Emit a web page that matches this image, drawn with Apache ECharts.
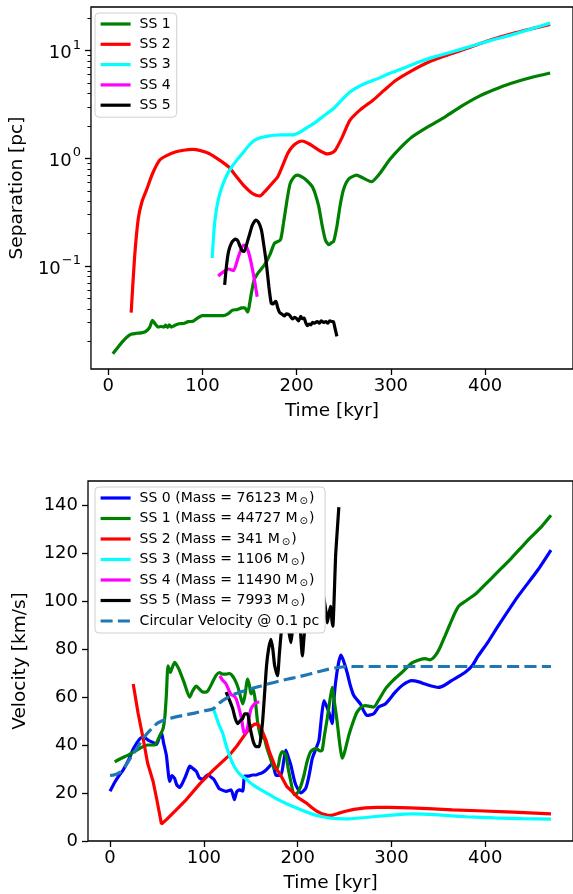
<!DOCTYPE html>
<html>
<head>
<meta charset="utf-8">
<script src="https://cdn.jsdelivr.net/npm/echarts@6/dist/echarts.min.js"></script>
<style>
  html, body { margin: 0; padding: 0; background: #fff; }
  #chart { width: 573px; height: 894px; }
</style>
</head>
<body>
<div id="chart"></div>
<script>
// ---- Separation between sub-structures [pc] vs time [kyr] ----
const sepSS1 = [[5,0.0154],[10,0.0175],[15,0.0198],[20,0.022],[25,0.0234],[30,0.0238],[35,0.024],[40,0.0248],[44,0.027],[47,0.0313],[50,0.029],[53,0.0272],[56,0.0275],[59,0.0272],[61,0.0283],[63,0.027],[65,0.0285],[67,0.0272],[70,0.028],[75,0.0292],[80,0.0293],[85,0.0305],[90,0.0308],[95,0.033],[100,0.0347],[110,0.0347],[122,0.0347],[127,0.036],[132,0.039],[137,0.0395],[141.7,0.0409],[145,0.041],[148,0.0375],[152,0.0563],[155,0.075],[159,0.086],[166,0.103],[172,0.13],[176.5,0.163],[182.8,0.175],[186,0.25],[189.8,0.41],[193,0.58],[197.4,0.675],[201,0.70],[206,0.67],[211,0.62],[216.6,0.546],[220,0.46],[223.5,0.356],[227,0.24],[230.5,0.175],[234,0.158],[237,0.165],[239.2,0.169],[242.7,0.233],[246,0.36],[249.6,0.509],[255,0.64],[263.6,0.70],[270,0.66],[279.3,0.607],[288,0.72],[298.4,0.964],[310,1.25],[322.7,1.585],[340,1.98],[357.6,2.43],[375,3.05],[392.4,3.72],[410,4.35],[427,4.95],[448,5.6],[469,6.2]];
const sepSS2 = [[24.4,0.037],[28,0.12],[32,0.278],[36,0.40],[40.7,0.51],[47,0.72],[54.7,0.964],[62,1.06],[72,1.15],[80,1.19],[89.5,1.21],[98,1.18],[107,1.11],[117,0.98],[127.8,0.836],[136,0.68],[145,0.546],[152,0.48],[157,0.455],[160.9,0.448],[165,0.48],[169.6,0.53],[175,0.60],[180,0.676],[185,0.85],[190.5,1.11],[196,1.30],[202.6,1.43],[206,1.45],[212,1.38],[218.3,1.28],[225,1.17],[232.3,1.10],[237,1.12],[241,1.19],[248,1.55],[256.6,2.26],[268,2.85],[281,3.47],[293,4.3],[305.4,5.31],[322,6.5],[340.2,7.84],[357,8.9],[375,10.06],[392,11.4],[409.8,12.9],[430,14.5],[450,16.0],[469,17.5]];
const sepSS3 = [[110.4,0.119],[112,0.20],[113.8,0.288],[117,0.42],[120.8,0.546],[126,0.70],[131.3,0.836],[138,1.0],[145.2,1.19],[150,1.34],[155.6,1.476],[162,1.56],[169.6,1.61],[176,1.64],[183.5,1.65],[190,1.65],[197.4,1.66],[204,1.76],[211,1.93],[218.3,2.11],[228,2.45],[239.2,2.90],[248,3.5],[256.6,4.14],[265,4.6],[274,5.0],[286,5.5],[298.4,6.12],[314,6.9],[329.8,7.84],[347,8.8],[364.5,9.7],[385,11.0],[406.3,12.45],[428,14.0],[450,16.0],[469,18.0]];
const sepSS4 = [[116.7,0.081],[122,0.088],[127.8,0.094],[133,0.091],[138.3,0.123],[143.5,0.157],[146,0.155],[148.7,0.137],[151,0.115],[153.9,0.086],[156,0.068],[158.1,0.052]];
const sepSS5 = [[123.6,0.067],[125.5,0.10],[127.8,0.137],[131,0.165],[134.8,0.178],[137.5,0.172],[140,0.152],[142,0.14],[144.5,0.137],[147,0.16],[150.4,0.202],[153,0.24],[156.7,0.268],[159.5,0.255],[162.6,0.217],[165,0.16],[167.8,0.107],[170.5,0.065],[173,0.0454],[175,0.0445],[176.5,0.046],[178,0.047],[180,0.0408],[182,0.037],[185.2,0.0354],[187,0.0345],[189,0.036],[192,0.0354],[194,0.0335],[195.6,0.0323],[198,0.0335],[200,0.0325],[202,0.031],[204.4,0.0341],[206,0.0325],[208,0.033],[209.5,0.030],[211.4,0.028],[213,0.029],[215,0.0285],[217,0.030],[219,0.0295],[221.8,0.0306],[224,0.0295],[226,0.031],[228.7,0.030],[231,0.0305],[233,0.0295],[235,0.031],[237.5,0.0306],[239,0.0305],[240.5,0.027],[242.7,0.0223]];

// ---- Velocity of each sub-structure [km/s] vs time [kyr] ----
const velSS0 = [[0,20.7],[5,24.5],[10,27.5],[14,29.6],[20,34],[25,38.5],[32,42.7],[36,43.3],[40.6,42],[45,41.2],[49.5,40.2],[52,42.5],[54.8,45.2],[57,41],[60,35.8],[63.6,24.8],[66,27.2],[68.9,26],[71,23.5],[74.2,22.3],[77,24],[80,26.5],[82.5,29],[85,31.2],[88,30.3],[92,29],[95.4,26.2],[99,25.8],[104,27.6],[108,26.5],[111,25.5],[116,22],[119,21.3],[123.7,20.7],[129,21.3],[132.6,17.2],[135,20.5],[138,21.3],[141.4,20.8],[143.5,27],[148,27],[152,27.5],[155.6,27.5],[159,28],[162.6,28.5],[166,29.5],[169.7,31],[173,32.4],[176.8,27.5],[182,27.3],[185,33],[187.4,37.9],[190,35],[192.7,31.7],[196,26],[198,23.4],[203.3,20],[208.6,22],[212,27],[215.6,34.4],[219,38],[222.7,42],[225.5,52],[228,58.5],[231,56],[233.3,53.7],[236.8,48.9],[238.5,58],[240.4,66],[243.5,74],[246,77.5],[248.5,75.5],[252.7,70.2],[256,65],[259.8,60.6],[266.9,57.1],[270,54.5],[273.9,52.3],[281,53],[286.3,55.8],[293.4,57.1],[304,62],[312,65],[321.6,66.8],[330,66.2],[335.8,65.4],[350,64],[357,65],[364,66.8],[378.3,70.2],[386,73],[392.4,77.1],[403,83],[413.6,89.5],[434.8,101.9],[456,112.9],[470,121.2]];
const velSS1 = [[5,33],[12,34.5],[19.4,35.8],[27,37.5],[35,39.3],[40,40],[47.7,40],[52,43],[56.5,46.8],[58.5,52],[60.1,61.3],[61.8,73],[64.3,70.2],[66.5,72.5],[68.9,74.4],[71.5,73],[74.2,70.9],[79,66],[84.8,59.9],[88,62.5],[91.9,64.5],[96,63],[99,62],[102.5,62],[105,63],[109,66],[113,69],[116.6,70.2],[120,69.5],[124,69.5],[127.3,69.8],[130,69],[132.6,67.5],[135.5,65],[137.9,62],[141.4,57.1],[143.5,60],[146.7,67.5],[148.5,65],[150.3,61.3],[152.7,63.3],[155,58],[157.3,49.6],[160.8,43.4],[164.4,42.7],[167,39],[169.7,35.8],[173,32],[175,30.3],[178.5,30.3],[181,35],[183.8,37.2],[187.4,35.8],[190,30],[192.7,24.8],[196.2,19.3],[199.7,20],[203,22.5],[206.8,27.5],[210,33],[213.9,37.2],[219.2,38.6],[224,37.5],[226.2,37.9],[228.5,44],[231.5,51],[234.5,59],[236.8,64],[239.5,57],[242.1,49.6],[245,40],[247.4,34.5],[250,37],[254.5,44],[259,49.5],[263.3,53.7],[268,55.8],[272.2,56.4],[281,55.8],[286,58.5],[293.4,63.3],[302,67],[311,70.2],[321.6,74.1],[330,75.5],[335.8,76],[341.1,75.5],[346.4,77.1],[351,80],[357,85.4],[362,90],[367.6,95],[372,98],[378.3,99.8],[390,103],[399.5,106.7],[413,112],[427.7,117.8],[440,123],[448.9,126.7],[460,131],[470,135.7]];
const velSS2 = [[24.7,65.4],[30,53],[35.3,42.7],[40,32.5],[45.9,24.8],[50,17],[54.8,7.1],[60.1,8.9],[70,12.8],[80,16.7],[95.4,23.7],[110,29.5],[127.3,35.8],[135,39.5],[143.2,44],[148,46.5],[151.5,48],[153.8,48.6],[156.5,48.8],[159.1,47.9],[162,46],[166.2,42],[170,37],[176.8,30.3],[181,28],[188.4,22.7],[194.4,20.5],[200,18.2],[208.6,16],[215,14],[220,12.5],[226.2,11.3],[232,10.7],[236.8,10.7],[243,11.5],[251,12.4],[260,13.2],[272.2,13.8],[285,14],[297,14],[320,13.8],[339.3,13.5],[365,13],[392.4,12.6],[430,12],[470,11.3]];
const velSS3 = [[110,55.1],[113,52],[116,48.5],[120,45],[124,39.5],[127,36],[130,33],[134,30],[138,28],[145,25.8],[152,23.5],[160,21.5],[170,19.3],[180.3,17],[190,15.2],[201.5,13.3],[215.6,11.2],[225,10.2],[235,9.5],[251,9.2],[272,9.8],[300,10.8],[322,11.3],[340,11.1],[357,10.7],[380,10.1],[410,9.6],[440,9.3],[470,9.1]];
const velSS4 = [[117,68.8],[120,67],[123.7,65.4],[127,62.5],[129,61],[132,60.5],[134.4,59.2],[137,56],[139.7,51.7],[143.2,44.8],[145,45.5],[146.7,47.5],[148.5,52],[150.3,55.1],[153.8,57.1],[156.5,57.8],[159.1,57.9]];
const velSS5 = [[123.7,62],[127,59],[130.8,55.1],[133.5,51],[136,48.9],[138.5,50],[141.3,51],[143.5,53],[146.6,53],[148.5,49],[150.2,45.5],[153,41],[155.6,39.3],[159,39.3],[161,44],[162.6,49.6],[164.5,60],[166.8,73],[169,80],[171.5,84],[173.5,80],[175.5,73],[178.5,68.9],[180.5,78],[182.1,85.4],[184,92],[186,97],[188,94],[190,89],[192.7,82.6],[194.5,88],[197,95],[200,97],[202,92],[203.3,85.4],[205,77.1],[207,86],[210,97],[214,108],[218,118],[221,128],[222.5,122],[224,113],[226,105],[228,101],[230,96],[231.5,90.9],[233,94],[235,97.8],[236.5,92],[237.5,89.5],[238.8,100],[240.4,118.4],[242.3,130],[243.9,139.1]];
const velCirc = [[0,27.3],[5,27.6],[10,28.5],[15,30.5],[20,33.5],[25,36.5],[30,39.5],[35,42.5],[40,45],[45,47],[50,49],[55,50],[60,50.7],[70,51.7],[80,52.5],[90,53.3],[100,54.2],[110,55.1],[115,57],[120,58.5],[130,60.8],[140,62.2],[150,63.4],[160,64.5],[170,65.6],[180,66.6],[190,67.5],[200,68.3],[210,69.3],[220,70.3],[230,71.3],[240,72.1],[250,72.6],[260,72.7],[300,72.7],[350,72.7],[400,72.7],[470,72.7]];

const subMasses = [76123, 44727, 341, 1106, 11490, 7993];

// ---- axis ticks ----
const timeTicks = [0, 100, 200, 300, 400];
const sepTicks = [0.1, 1, 10];
const sepMinorTicks = [0.02,0.03,0.04,0.05,0.06,0.07,0.08,0.09,0.2,0.3,0.4,0.5,0.6,0.7,0.8,0.9,2,3,4,5,6,7,8,9,20];
const velTicks = [0, 20, 40, 60, 80, 100, 120, 140];

const FONT = 'DejaVu Sans';
const LW = 3.2;
const sepMin = Math.pow(10, -1.955), sepMax = Math.pow(10, 1.405);

const colors = ['#0000ff', '#008000', '#ff0000', '#00ffff', '#ff00ff', '#000000'];
const velData = [velSS0, velSS1, velSS2, velSS3, velSS4, velSS5];
const sepData = [null, sepSS1, sepSS2, sepSS3, sepSS4, sepSS5];

const velNames = subMasses.map((m, i) => `SS ${i} (Mass = ${m} M⊙)`);
const circName = 'Circular Velocity @ 0.1 pc';

const series = [];
for (let i = 1; i <= 5; i++) {
  series.push({
    name: 'SS ' + i, type: 'line', xAxisIndex: 0, yAxisIndex: 0,
    data: sepData[i], symbol: 'none', smooth: 0.2,
    lineStyle: { color: colors[i], width: LW }, itemStyle: { color: colors[i] }
  });
}
for (let i = 0; i <= 5; i++) {
  series.push({
    name: velNames[i], type: 'line', xAxisIndex: 1, yAxisIndex: 2,
    data: velData[i], symbol: 'none', smooth: i === 2 ? false : 0.2,
    lineStyle: { color: colors[i], width: LW }, itemStyle: { color: colors[i] }
  });
}
series.push({
  name: circName, type: 'line', xAxisIndex: 1, yAxisIndex: 2,
  data: velCirc, symbol: 'none', smooth: 0.3,
  lineStyle: { color: '#1f77b4', width: LW, type: [12, 5.3] }, itemStyle: { color: '#1f77b4' }
});

const tickLine = { color: '#000', width: 1.3 };
const labelStyle = { fontFamily: FONT, fontSize: 18, color: '#000' };
const nameStyle = { fontFamily: FONT, fontSize: 18.5, color: '#000' };

function timeAxis(grid, min, max) {
  return {
    type: 'value', gridIndex: grid, min: min, max: max,
    name: 'Time [kyr]', nameLocation: 'middle', nameGap: 33, nameTextStyle: nameStyle,
    axisLine: { show: false, onZero: false }, splitLine: { show: false },
    axisTick: { show: true, length: 6, lineStyle: tickLine, customValues: timeTicks },
    axisLabel: Object.assign({ margin: 8, customValues: timeTicks }, labelStyle)
  };
}

const legendBase = {
  orient: 'vertical', itemWidth: 30, itemHeight: 14, itemGap: 4.3,
  backgroundColor: '#fff', borderColor: '#d0d0d0', borderWidth: 1, borderRadius: 4,
  itemStyle: { opacity: 0 },
  lineStyle: { width: LW },
  textStyle: { fontFamily: FONT, fontSize: 14, color: '#000', lineHeight: 16, padding: [0, 0, 0, 4] },
  selectedMode: false
};

const option = {
  animation: false,
  backgroundColor: '#fff',
  grid: [
    { left: 87, top: 7, width: 490, height: 362, show: true, borderColor: '#000', borderWidth: 1.3, backgroundColor: 'transparent' },
    { left: 88, top: 481, width: 488, height: 362, show: true, borderColor: '#000', borderWidth: 1.3, backgroundColor: 'transparent' }
  ],
  xAxis: [timeAxis(0, -18.25, 493.25), timeAxis(1, -23.5, 493.5)],
  yAxis: [
    {
      type: 'log', gridIndex: 0, min: sepMin, max: sepMax,
      name: 'Separation [pc]', nameLocation: 'middle', nameGap: 58, nameTextStyle: nameStyle,
      axisLine: { show: false, onZero: false }, splitLine: { show: false },
      axisTick: { show: true, length: 6, lineStyle: tickLine, customValues: sepTicks },
      axisLabel: Object.assign({
        margin: 10, customValues: sepTicks,
        formatter: function (v) {
          const e = Math.round(Math.log10(v));
          return '{b|10}{s|' + (e < 0 ? '\u2212' + (-e) : e) + '}';
        },
        rich: {
          b: { fontFamily: FONT, fontSize: 18, color: '#000', lineHeight: 24, verticalAlign: 'bottom' },
          s: { fontFamily: FONT, fontSize: 13, color: '#000', lineHeight: 24, verticalAlign: 'top', padding: [0, 0, 0, 1] }
        }
      }, labelStyle)
    },
    {
      // minor ticks of the logarithmic separation axis
      type: 'log', gridIndex: 0, min: sepMin, max: sepMax, position: 'left',
      axisLine: { show: false, onZero: false }, splitLine: { show: false }, axisLabel: { show: false },
      axisTick: { show: true, length: 3.5, lineStyle: { color: '#000', width: 1 }, customValues: sepMinorTicks }
    },
    {
      type: 'value', gridIndex: 1, min: 0, max: 150,
      name: 'Velocity [km/s]', nameLocation: 'middle', nameGap: 58, nameTextStyle: nameStyle,
      axisLine: { show: false, onZero: false }, splitLine: { show: false },
      axisTick: { show: true, length: 6, lineStyle: tickLine, customValues: velTicks },
      axisLabel: Object.assign({ margin: 10, customValues: velTicks }, labelStyle)
    }
  ],
  legend: [
    Object.assign({}, legendBase, {
      left: 95, top: 13, padding: [3, 6, 4, 4],
      data: ['SS 1', 'SS 2', 'SS 3', 'SS 4', 'SS 5']
    }),
    Object.assign({}, legendBase, {
      left: 95, top: 487, padding: [3, 6, 4, 4], itemGap: 4.5,
      data: velNames.concat([circName]),
      formatter: function (name) {
        return name.replace('M⊙)', 'M{sun|⊙}{n|)}');
      },
      textStyle: Object.assign({}, legendBase.textStyle, {
        rich: {
          sun: { fontFamily: FONT, fontSize: 10, color: '#000', lineHeight: 16, verticalAlign: 'bottom', padding: [0, 1, 0, 2] },
          n: { fontFamily: FONT, fontSize: 14, color: '#000', lineHeight: 16 }
        }
      })
    })
  ],
  series: series
};

const chart = echarts.init(document.getElementById('chart'), null, { renderer: 'canvas' });
chart.setOption(option);
</script>
</body>
</html>
